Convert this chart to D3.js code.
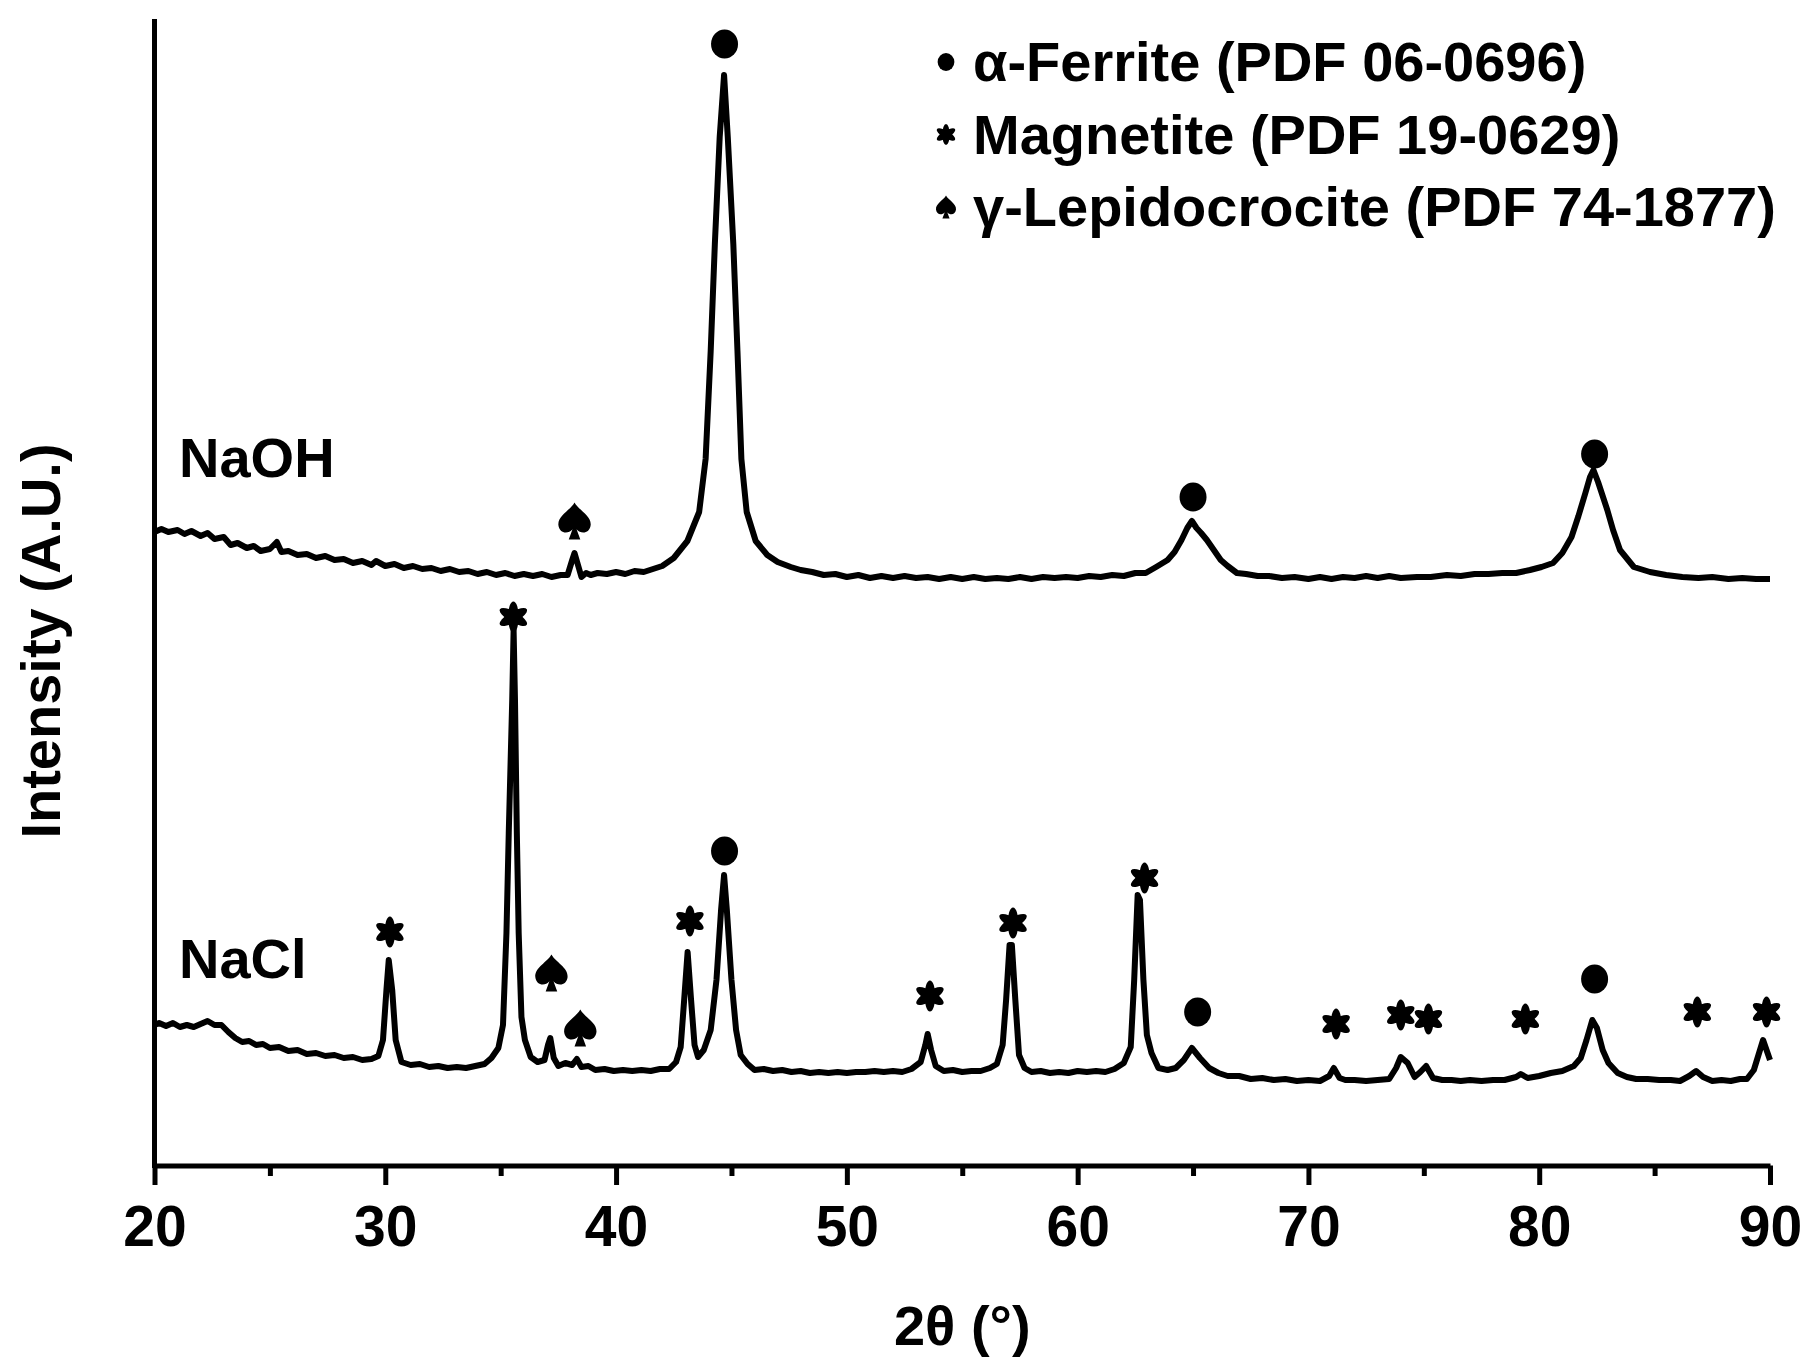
<!DOCTYPE html>
<html lang="en">
<head>
    <meta charset="UTF-8">
    <title>XRD patterns</title>
    <script src="https://d3js.org/d3.v7.min.js"></script>
    <style>
        body, html {
            margin: 0;
            padding: 0;
            background: #fff;
        }
        svg text {
            font-family: 'Liberation Sans', Arial, sans-serif;
            font-weight: 700;
            fill: #000;
        }
    </style>
</head>
<body>
<svg id="chart" width="1810" height="1371"></svg>

<script>
    // 2theta (deg) and intensity (A.U., curves already stacked)
    const naohAngle = [20.0, 20.3, 20.6, 21.0, 21.3, 21.6, 22.0, 22.3, 22.6, 23.0, 23.3, 23.6, 24.0, 24.3, 24.6, 25.0, 25.3, 25.5, 25.8, 26.2,
        26.6, 27.0, 27.4, 27.8, 28.2, 28.6, 29.0, 29.4, 29.6, 30.0, 30.4, 30.8, 31.2, 31.6, 32.0, 32.4, 32.8, 33.2, 33.6, 34.0,
        34.4, 34.8, 35.2, 35.6, 36.0, 36.4, 36.8, 37.2, 37.6, 37.9, 38.1, 38.2, 38.35, 38.5, 38.7, 38.9, 39.2, 39.6, 40.0, 40.4,
        40.8, 41.2, 41.6, 42.0, 42.5, 43.09, 43.6, 43.88, 44.1, 44.28, 44.49, 44.68, 44.84, 45.08, 45.26, 45.43, 45.66, 46.05, 46.55, 47.0,
        47.57, 48.0, 48.5, 49.0, 49.5, 50.0, 50.5, 51.0, 51.5, 52.0, 52.5, 53.0, 53.5, 54.0, 54.5, 55.0, 55.5, 56.0, 56.5, 57.0,
        57.5, 58.0, 58.5, 59.0, 59.5, 60.0, 60.5, 61.0, 61.5, 62.0, 62.5, 62.95, 63.4, 63.9, 64.2, 64.5, 64.75, 64.95, 65.15, 65.35,
        65.6, 65.9, 66.2, 66.5, 66.9, 67.3, 67.8, 68.3, 68.85, 69.4, 70.0, 70.5, 71.0, 71.5, 72.0, 72.5, 73.0, 73.5, 74.0, 74.7,
        75.3, 76.0, 76.6, 77.2, 77.8, 78.4, 79.0, 79.6, 80.1, 80.6, 81.0, 81.4, 81.7, 82.0, 82.2, 82.35, 82.55, 82.95, 83.2, 83.5,
        84.1, 84.8, 85.5, 86.2, 86.9, 87.5, 88.2, 88.8, 89.4, 90.0];
    const naohIntensity = [634, 637, 634, 636, 632, 635, 630, 633, 627, 629, 621, 623, 618, 620, 615, 617, 624, 614, 615, 611,
        612, 608, 610, 606, 607, 603, 605, 601, 605, 600, 602, 598, 600, 597, 598, 595, 597, 594, 595, 592,
        594, 591, 593, 590, 592, 590, 592, 589, 591, 591, 606, 613, 601, 589, 593, 591, 593, 592, 594, 592,
        595, 594, 597, 600, 608, 625, 654, 707, 815, 922, 1029, 1091, 1029, 922, 815, 707, 654, 625, 611, 604,
        599, 596, 594, 591, 592, 589, 591, 588, 590, 588, 590, 588, 589, 587, 589, 587, 589, 587, 588, 587,
        589, 587, 589, 588, 589, 588, 590, 589, 591, 590, 593, 593, 599, 606, 614, 626, 638, 645, 638, 633,
        626, 616, 606, 600, 593, 592, 590, 590, 588, 589, 587, 589, 587, 589, 588, 590, 588, 590, 588, 589,
        589, 591, 590, 592, 592, 593, 593, 596, 599, 603, 613, 629, 650, 673, 689, 696, 684, 656, 636, 616,
        599, 594, 591, 589, 588, 589, 587, 588, 587, 587];

    const naclAngle = [20.0, 20.2, 20.5, 20.8, 21.1, 21.4, 21.7, 22.0, 22.3, 22.6, 22.9, 23.2, 23.5, 23.8, 24.1, 24.4, 24.7, 25.0, 25.4, 25.8,
        26.2, 26.6, 27.0, 27.4, 27.8, 28.2, 28.6, 29.0, 29.4, 29.7, 29.9, 30.05, 30.15, 30.3, 30.45, 30.7, 31.1, 31.5, 31.9, 32.3,
        32.7, 33.1, 33.5, 33.9, 34.3, 34.6, 34.9, 35.1, 35.25, 35.35, 35.5, 35.56, 35.62, 35.7, 35.78, 35.9, 36.05, 36.3, 36.6, 36.9,
        37.05, 37.15, 37.3, 37.5, 37.8, 38.1, 38.3, 38.5, 38.8, 39.1, 39.5, 39.9, 40.3, 40.7, 41.1, 41.5, 41.9, 42.3, 42.6, 42.8,
        42.95, 43.1, 43.25, 43.4, 43.55, 43.8, 44.1, 44.35, 44.55, 44.68, 44.8, 45.0, 45.2, 45.4, 45.7, 46.0, 46.4, 46.8, 47.2, 47.6,
        48.0, 48.4, 48.8, 49.2, 49.6, 50.0, 50.4, 50.8, 51.2, 51.6, 52.0, 52.4, 52.8, 53.2, 53.4, 53.5, 53.65, 53.85, 54.2, 54.6,
        55.0, 55.4, 55.8, 56.2, 56.5, 56.75, 56.9, 57.05, 57.15, 57.3, 57.46, 57.7, 58.0, 58.4, 58.8, 59.2, 59.6, 60.0, 60.4, 60.8,
        61.2, 61.6, 62.0, 62.3, 62.45, 62.6, 62.7, 62.85, 63.0, 63.2, 63.5, 63.9, 64.25, 64.6, 64.95, 65.3, 65.7, 66.1, 66.5, 67.0,
        67.5, 68.0, 68.5, 69.0, 69.5, 70.0, 70.5, 70.9, 71.1, 71.35, 71.6, 72.0, 72.5, 73.0, 73.5, 73.8, 74.0, 74.3, 74.6, 74.85,
        75.1, 75.4, 75.8, 76.2, 76.6, 77.0, 77.5, 78.0, 78.5, 79.0, 79.2, 79.5, 80.0, 80.5, 81.0, 81.5, 81.8, 82.05, 82.3, 82.5,
        82.75, 83.0, 83.4, 83.8, 84.2, 84.7, 85.2, 85.7, 86.1, 86.5, 86.8, 87.1, 87.5, 87.9, 88.3, 88.7, 89.0, 89.3, 89.5, 89.7,
        89.85, 90.0];
    const naclIntensity = [141, 143, 140, 143, 139, 141, 139, 142, 145, 141, 141, 134, 128, 124, 125, 121, 122, 118, 119, 115,
        116, 112, 113, 110, 111, 108, 109, 106, 107, 110, 126, 176, 206, 176, 126, 104, 101, 102, 99, 100,
        98, 99, 98, 100, 102, 108, 118, 141, 233, 333, 466, 536, 466, 333, 233, 149, 126, 109, 104, 106,
        121, 128, 108, 100, 103, 101, 107, 99, 100, 96, 97, 95, 96, 95, 96, 95, 97, 97, 104, 119,
        166, 214, 166, 121, 109, 116, 136, 186, 256, 291, 256, 186, 136, 111, 102, 96, 97, 95, 96, 94,
        95, 93, 94, 93, 94, 93, 94, 94, 95, 94, 95, 94, 97, 104, 121, 132, 116, 100, 95, 96,
        94, 95, 95, 98, 102, 121, 166, 221, 221, 166, 111, 98, 94, 95, 93, 94, 93, 95, 94, 95,
        94, 97, 103, 119, 186, 271, 266, 186, 131, 113, 98, 96, 98, 106, 118, 108, 98, 93, 90, 90,
        87, 88, 86, 87, 85, 86, 85, 90, 98, 88, 86, 86, 85, 86, 87, 98, 109, 103, 89, 94,
        100, 88, 86, 86, 85, 86, 85, 86, 86, 89, 92, 88, 90, 93, 95, 100, 108, 126, 146, 138,
        116, 103, 93, 89, 87, 87, 86, 86, 85, 90, 95, 89, 85, 86, 85, 87, 87, 96, 111, 126,
        116, 106];

    // phase markers: angle, height (A.U.), phase
    const markerAngle = [44.7, 38.2, 65.0, 82.4,
        30.2, 35.55, 37.2, 38.45, 43.2, 44.7, 53.6, 57.2, 62.9, 65.2, 71.2, 74.0, 75.2, 79.4, 82.4, 86.85, 89.85];
    const markerHeight = [1122, 645, 669, 712,
        234, 549, 193, 138, 245, 315, 170, 243, 288, 154, 142, 151, 147, 147, 187, 154, 154];
    const markerPhase = ["ferrite", "lepido", "ferrite", "ferrite",
        "magnetite", "magnetite", "lepido", "lepido", "magnetite", "ferrite", "magnetite", "magnetite", "magnetite",
        "ferrite", "magnetite", "magnetite", "magnetite", "magnetite", "ferrite", "magnetite", "magnetite"];

    const sampleNames = ["NaOH", "NaCl"];
    const legendPhases = ["ferrite", "magnetite", "lepido"];
    const legendLabels = ["\u03b1-Ferrite (PDF 06-0696)", "Magnetite (PDF 19-0629)", "\u03b3-Lepidocrocite (PDF 74-1877)"];
    const xTicks = [20, 30, 40, 50, 60, 70, 80, 90];
    const xMinorTicks = [25, 35, 45, 55, 65, 75, 85];

    const svg = d3.select("#chart");
    const plotLeft = 154.5, plotRight = 1770, plotTop = 19, plotBottom = 1165.5;

    const x = d3.scaleLinear().domain([20, 90]).range([plotLeft, plotRight]);
    const y = d3.scaleLinear().domain([0, 1150]).range([1166, 16]);

    // spectra
    const line = d3.line()
        .x(d => x(d[0]))
        .y(d => y(d[1]));

    const series = [
        d3.zip(naohAngle, naohIntensity),
        d3.zip(naclAngle, naclIntensity)
    ];

    svg.selectAll(".spectrum")
        .data(series)
        .enter()
        .append("path")
        .attr("class", "spectrum")
        .attr("d", line)
        .attr("fill", "none")
        .attr("stroke", "#000")
        .attr("stroke-width", 6)
        .attr("stroke-linejoin", "round");

    // marker shapes
    const spadePath = "M0,-1 C0.22,-0.6 1,-0.3 0.95,0.22 C0.9,0.68 0.38,0.74 0.12,0.45 L0.34,1 L-0.34,1 L-0.12,0.45 C-0.38,0.74 -0.9,0.68 -0.95,0.22 C-1,-0.3 -0.22,-0.6 0,-1 Z";

    function drawMarker(g, phase, s) {
        if (phase === "ferrite") {
            g.append("ellipse").attr("rx", 13.5 * s).attr("ry", 14.5 * s).attr("fill", "#000");
        } else if (phase === "magnetite") {
            [0, 60, 120].forEach(a => {
                g.append("ellipse")
                    .attr("rx", 5.4 * s)
                    .attr("ry", 15.5 * s)
                    .attr("transform", `rotate(${a})`)
                    .attr("fill", "#000");
            });
        } else {
            g.append("path")
                .attr("d", spadePath)
                .attr("transform", `scale(${17 * s},${18.5 * s})`)
                .attr("fill", "#000");
        }
    }

    markerAngle.forEach((a, i) => {
        const g = svg.append("g")
            .attr("class", "marker")
            .attr("transform", `translate(${x(a)},${y(markerHeight[i])})`);
        drawMarker(g, markerPhase[i], 1);
    });

    // axes
    const xAxis = svg.append("g")
        .attr("transform", `translate(0,${plotBottom})`)
        .call(d3.axisBottom(x)
            .tickValues(xTicks)
            .tickFormat(d3.format("d"))
            .tickSizeInner(19.5)
            .tickSizeOuter(0)
            .tickPadding(21));

    xAxis.select(".domain").attr("stroke", "#000").attr("stroke-width", 5);
    xAxis.selectAll(".tick line").attr("stroke", "#000").attr("stroke-width", 5);
    xAxis.selectAll(".tick text")
        .attr("font-size", 57)
        .attr("font-family", "'Liberation Sans', Arial, sans-serif")
        .attr("font-weight", 700);

    svg.append("g")
        .attr("transform", `translate(0,${plotBottom})`)
        .call(d3.axisBottom(x)
            .tickValues(xMinorTicks)
            .tickFormat("")
            .tickSizeInner(10.5)
            .tickSizeOuter(0))
        .call(g => g.select(".domain").remove())
        .selectAll(".tick line")
        .attr("stroke", "#000")
        .attr("stroke-width", 5);

    svg.append("line")
        .attr("x1", plotLeft).attr("x2", plotLeft)
        .attr("y1", plotTop).attr("y2", plotBottom + 2.5)
        .attr("stroke", "#000")
        .attr("stroke-width", 5);

    // axis titles
    svg.append("text")
        .attr("x", (plotLeft + plotRight) / 2)
        .attr("y", 1345)
        .attr("text-anchor", "middle")
        .attr("font-size", 56)
        .text("2\u03b8 (\u00b0)");

    svg.append("text")
        .attr("transform", "translate(60,641) rotate(-90)")
        .attr("text-anchor", "middle")
        .attr("font-size", 56)
        .text("Intensity (A.U.)");

    // sample labels
    const labelY = [477, 978];
    svg.selectAll(".sample")
        .data(sampleNames)
        .enter()
        .append("text")
        .attr("class", "sample")
        .attr("x", 179)
        .attr("y", (d, i) => labelY[i])
        .attr("font-size", 56)
        .text(d => d);

    // legend
    const legend = svg.append("g").attr("transform", "translate(946,0)");
    legendPhases.forEach((p, i) => {
        const base = 81 + i * 72.5;
        const g = legend.append("g").attr("transform", `translate(0,${base - 19})`);
        drawMarker(g, p, p === "magnetite" ? 0.68 : 0.62);
        legend.append("text")
            .attr("x", 27)
            .attr("y", base)
            .attr("font-size", 56)
            .text(legendLabels[i]);
    });
</script>
</body>
</html>
